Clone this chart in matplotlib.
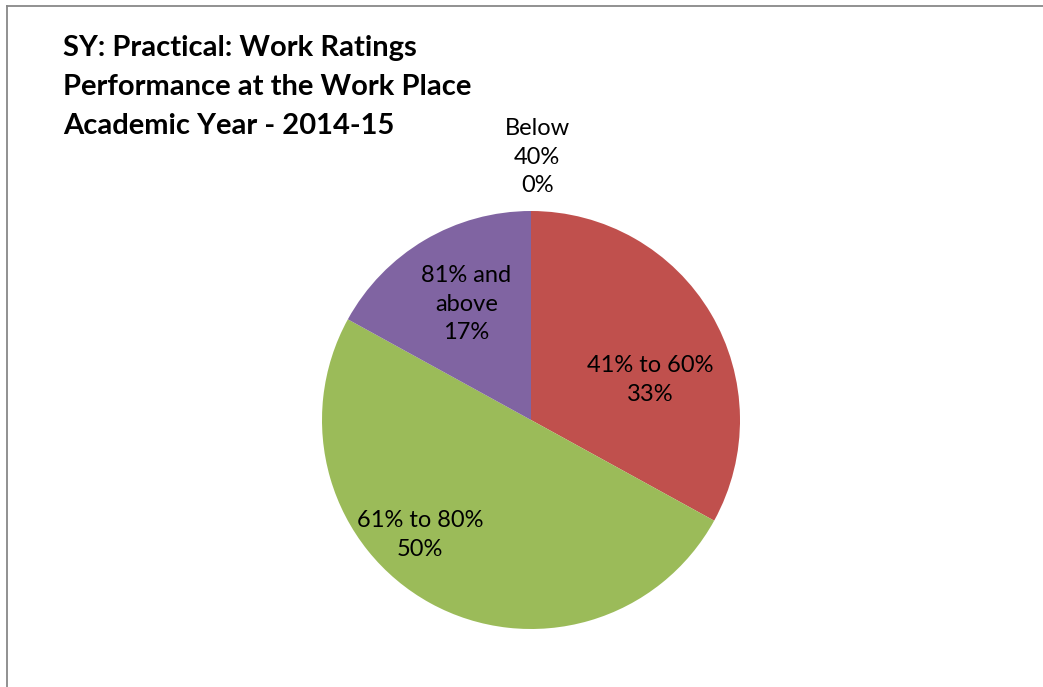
import matplotlib.pyplot as plt
from matplotlib.lines import Line2D

# rating bands and share of students in each
bands = ['Below\n40%', '41% to 60%', '61% to 80%', '81% and\nabove']
shares = [0, 33, 50, 17]
colors = ['#4F81BD', '#C0504D', '#9BBB59', '#8064A2']

# where each data label sits (pie radius = 1)
label_pos = [(0.03, 1.258), (0.57, 0.19), (-0.53, -0.55), (-0.31, 0.555)]

plt.rcParams['font.family'] = ['Lato', 'DejaVu Sans']

W, H = 1043, 687
fig = plt.figure(figsize=(W / 100, H / 100), dpi=100)
fig.patch.set_facecolor('white')

# pie centred at (531, 420) px, radius 209 px
cx, cy, r = 531, 420, 209
ax = fig.add_axes([(cx - r) / W, (H - cy - r) / H, 2 * r / W, 2 * r / H])
ax.pie(shares, colors=colors, startangle=90, counterclock=False,
       radius=1, wedgeprops=dict(linewidth=0))
ax.set_xlim(-1, 1)
ax.set_ylim(-1, 1)
ax.set_aspect('equal')
ax.set_axis_off()

for band, share, (x, y) in zip(bands, shares, label_pos):
    ax.text(x, y, f'{band}\n{share}%', ha='center', va='center',
            fontsize=17, linespacing=1.45, color='black', clip_on=False)

fig.text(63 / W, 1 - 35 / H,
         'SY: Practical: Work Ratings\nPerformance at the Work Place\nAcademic Year - 2014-15',
         ha='left', va='top', fontsize=21, fontweight='bold', linespacing=1.63)

# chart frame (only left and top edges fall inside the image)
fig.add_artist(Line2D([7 / W, 7 / W], [0, 1 - 6 / H], transform=fig.transFigure,
                      color='#888888', linewidth=1.3))
fig.add_artist(Line2D([7 / W, 1], [1 - 6 / H, 1 - 6 / H], transform=fig.transFigure,
                      color='#888888', linewidth=1.3))

fig.savefig('out.png', dpi=100, facecolor='white')
